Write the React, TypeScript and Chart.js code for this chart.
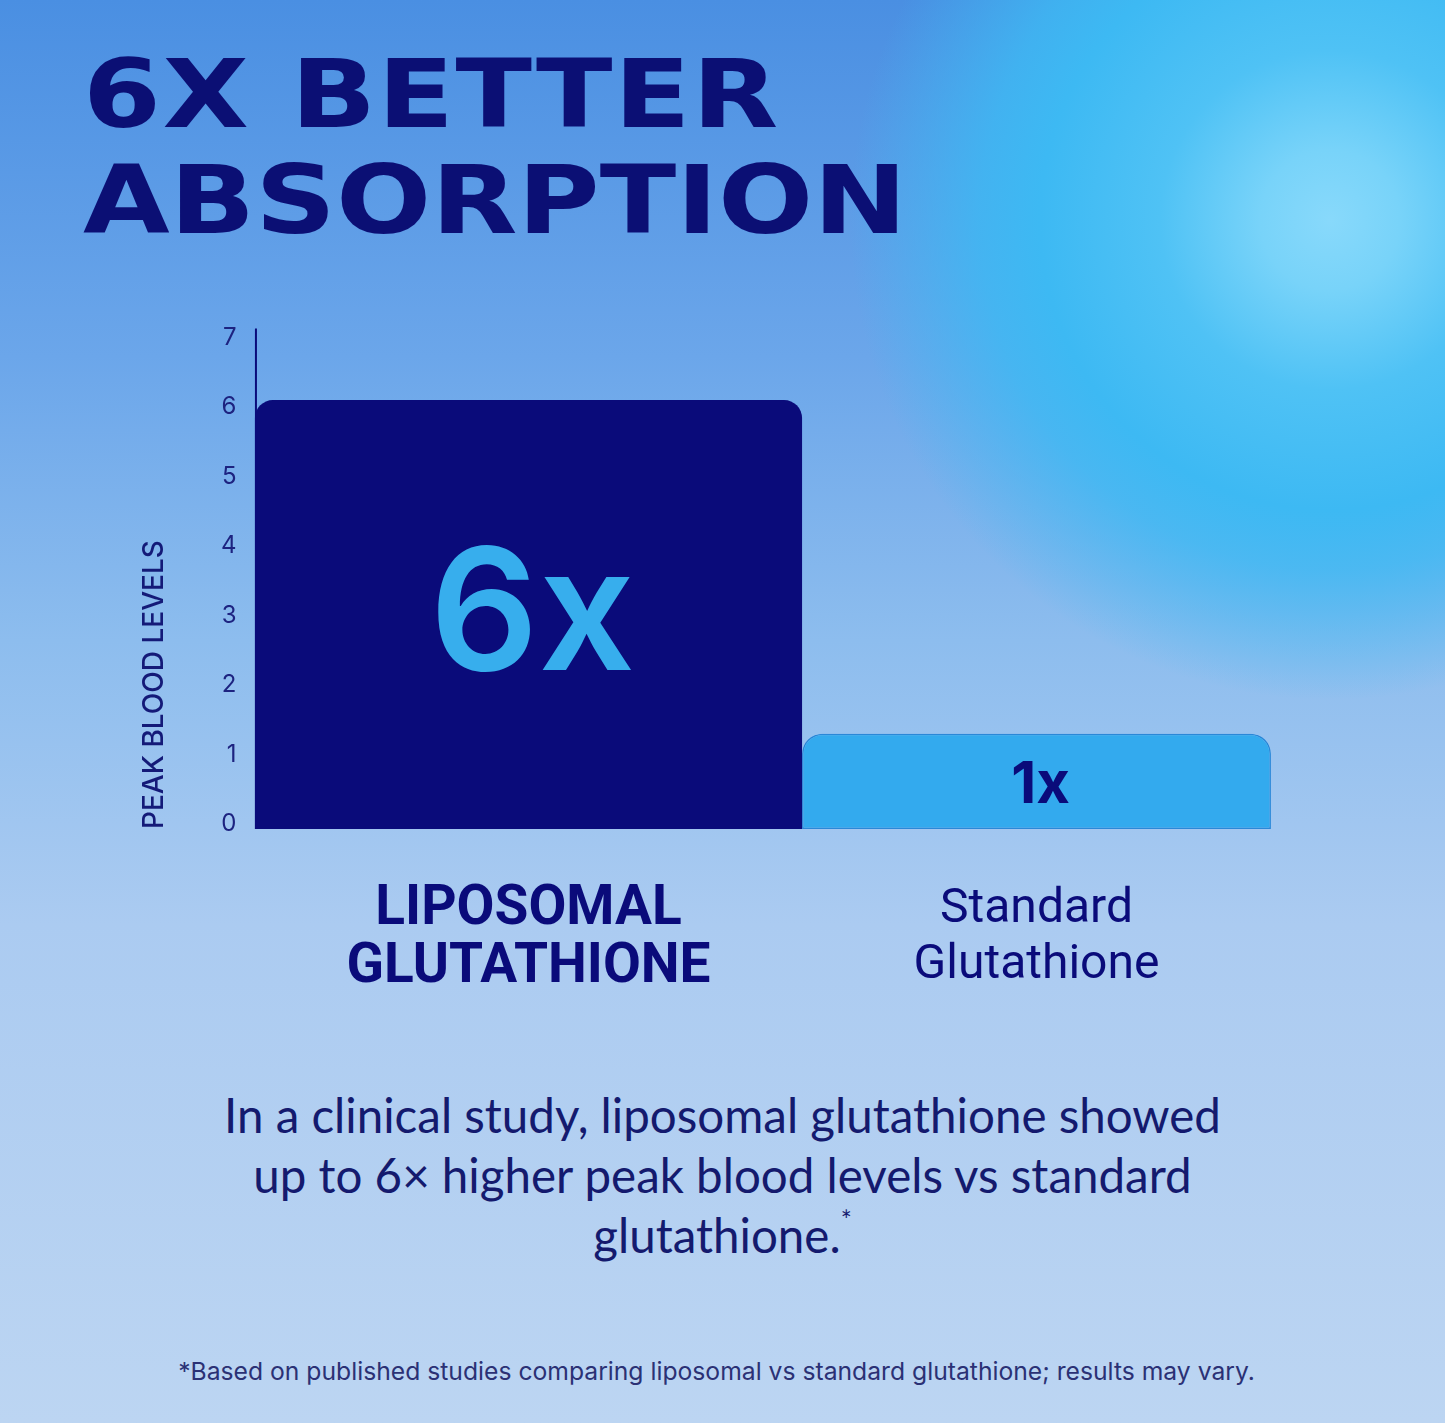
import { useRef, useEffect } from "react";
import { Chart, registerables } from "chart.js";

Chart.register(...registerables);

// Chart values
const categories = [
  ["LIPOSOMAL", "GLUTATHIONE"],
  ["Standard", "Glutathione"],
];
const peakLevels = [6.17, 1.37];
const barLabels = ["6x", "1x"];
const yAxisTitle = "PEAK BLOOD LEVELS";

const NAVY = "#0a0b7a";
const LIGHT_BLUE = "#33aaee";

// draws the y axis line at the first bar's left edge and the big labels inside the bars
const barDecorations = {
  id: "barDecorations",
  beforeDatasetsDraw(chart: Chart) {
    const bar: any = chart.getDatasetMeta(0).data[0];
    if (!bar) return;
    const { ctx, chartArea } = chart;
    const x = bar.x - bar.width / 2;
    ctx.save();
    ctx.strokeStyle = NAVY;
    ctx.lineWidth = 2;
    ctx.beginPath();
    ctx.moveTo(x + 1, chartArea.top);
    ctx.lineTo(x + 1, chartArea.bottom);
    ctx.stroke();
    ctx.restore();
  },
  afterDatasetsDraw(chart: Chart) {
    const { ctx } = chart;
    ctx.save();
    ctx.textAlign = "center";
    ctx.textBaseline = "middle";
    barLabels.forEach((label, i) => {
      const bar: any = chart.getDatasetMeta(i).data[i];
      if (!bar) return;
      const cy = (bar.y + bar.base) / 2;
      if (i === 0) {
        ctx.fillStyle = "#37aeed";
        ctx.font = "600 170px Inter";
      } else {
        ctx.fillStyle = NAVY;
        ctx.font = "700 58px Inter";
      }
      ctx.fillText(label, bar.x + 4, cy + 4);
    });
    ctx.restore();
  },
};

function AbsorptionChart() {
  const canvasRef = useRef<HTMLCanvasElement>(null);
  const chartRef = useRef<Chart | null>(null);

  useEffect(() => {
    if (!canvasRef.current) return;
    if (chartRef.current) chartRef.current.destroy();

    chartRef.current = new Chart(canvasRef.current, {
      type: "bar",
      data: {
        labels: categories,
        datasets: [
          {
            data: peakLevels.map((v, i) => (i === 0 ? v : null)),
            backgroundColor: NAVY,
            borderWidth: 0,
            borderRadius: { topLeft: 18, topRight: 18, bottomLeft: 0, bottomRight: 0 },
            borderSkipped: "bottom",
            barPercentage: 1.077,
            categoryPercentage: 1,
            grouped: false,
            clip: false,
          },
          {
            data: peakLevels.map((v, i) => (i === 1 ? v : null)),
            backgroundColor: LIGHT_BLUE,
            borderColor: "#2a88d8",
            borderWidth: 1.5,
            borderRadius: { topLeft: 20, topRight: 20, bottomLeft: 0, bottomRight: 0 },
            borderSkipped: false,
            barPercentage: 0.923,
            categoryPercentage: 1,
            grouped: false,
            clip: false,
          },
        ] as any,
      },
      options: {
        responsive: true,
        maintainAspectRatio: false,
        animation: false,
        layout: { padding: { top: 4, right: 154.5, left: 0, bottom: 0 } },
        plugins: {
          legend: { display: false },
          tooltip: { enabled: false },
        },
        scales: {
          x: {
            grid: { display: false, drawTicks: false },
            border: { display: false },
            afterFit: (scale: any) => {
              scale.height = 191;
            },
            ticks: {
              padding: 53,
              maxRotation: 0,
              autoSkip: false,
              color: NAVY,
              font: (ctx: any) =>
                ctx.index === 0
                  ? { family: "Roboto", size: 55, weight: "bold", lineHeight: 1.04 }
                  : { family: "Roboto", size: 48, weight: "normal", lineHeight: 1.17 },
            },
          },
          y: {
            min: 0,
            max: 7.2,
            grid: { display: false, drawTicks: false },
            border: { display: false },
            afterFit: (scale: any) => {
              scale.width = 144.5;
            },
            ticks: {
              stepSize: 1,
              includeBounds: false,
              padding: 38,
              labelOffset: -5,
              color: "#1d2380",
              font: { family: "Inter", size: 24 },
            },
            title: {
              display: true,
              text: yAxisTitle,
              align: "start",
              color: "#141a78",
              font: { family: "Inter", size: 28, weight: 500 },
              padding: { top: 8, bottom: 0 },
            },
          } as any,
        },
      },
      plugins: [barDecorations],
    });

    return () => {
      if (chartRef.current) {
        chartRef.current.destroy();
        chartRef.current = null;
      }
    };
  }, []);

  // the y tick padding also pads the top of the chart area, hence the higher box
  return (
    <div style={{ position: "absolute", left: 130, top: 276, width: 1315, height: 744 }}>
      <canvas ref={canvasRef} />
    </div>
  );
}

export default function App() {
  return (
    <div
      style={{
        position: "absolute",
        left: 0,
        top: 0,
        width: 1445,
        height: 1423,
        overflow: "hidden",
        background:
          "radial-gradient(circle at 1330px 220px, #88d9fb 0px, #78d3f9 70px, #4fc2f5 170px, #3db9f3 290px, rgba(61,185,243,0.8) 350px, rgba(61,185,243,0) 480px), " +
          "linear-gradient(180deg, #4a8fe2 0%, #6ba6ea 25%, #8dbdee 45%, #abcbf1 65%, #bcd5f2 100%)",
      }}
    >
      <div
        style={{
          position: "absolute",
          left: 83,
          top: 41,
          fontFamily: "'DejaVu Sans'",
          fontWeight: 700,
          fontSize: 95,
          lineHeight: "106px",
          color: "#0b0f74",
          transform: "scaleX(1.18)",
          transformOrigin: "left top",
          whiteSpace: "nowrap",
        }}
      >
        <div style={{ letterSpacing: 1.2 }}>6X BETTER</div>
        <div>ABSORPTION</div>
      </div>

      <AbsorptionChart />

      <div
        style={{
          position: "absolute",
          left: 0,
          top: 1085,
          width: 1445,
          textAlign: "center",
          fontFamily: "Lato",
          fontSize: 47.5,
          lineHeight: "60px",
          color: "#141a6e",
        }}
      >
        In a clinical study, liposomal glutathione showed
        <br />
        up to 6× higher peak blood levels vs standard
        <br />
        glutathione.<sup style={{ fontSize: 26, verticalAlign: "top", lineHeight: "30px" }}>*</sup>
      </div>

      <div
        style={{
          position: "absolute",
          left: -6,
          top: 1356,
          width: 1445,
          textAlign: "center",
          fontFamily: "Inter",
          fontSize: 24.7,
          lineHeight: "30px",
          color: "#2b3175",
        }}
      >
        *Based on published studies comparing liposomal vs standard glutathione; results may vary.
      </div>
    </div>
  );
}
